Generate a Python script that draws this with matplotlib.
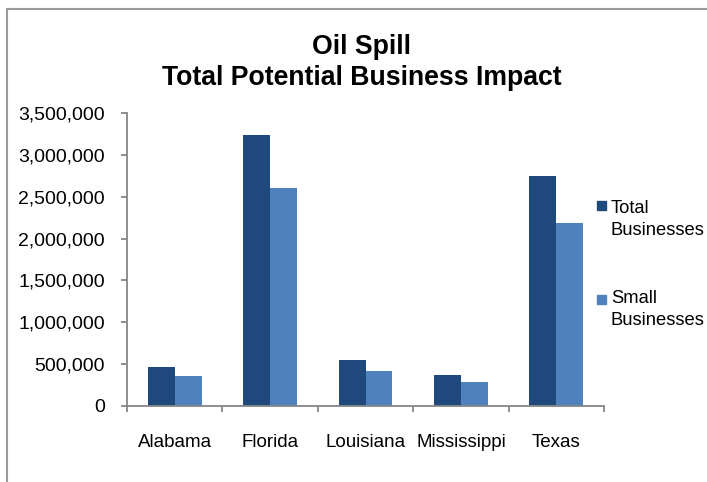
import numpy as np
import matplotlib
matplotlib.use("Agg")
import matplotlib.pyplot as plt
from matplotlib.lines import Line2D
from matplotlib.patches import Rectangle
from matplotlib.ticker import FuncFormatter

plt.rcParams["font.family"] = ["Liberation Sans", "DejaVu Sans"]

states = ["Alabama", "Florida", "Louisiana", "Mississippi", "Texas"]
total_businesses = [462000, 3233000, 546000, 371000, 2751000]
small_businesses = [363000, 2608000, 423000, 287000, 2189000]
series_names = ["Total\nBusinesses", "Small\nBusinesses"]
colors = ["#1F497D", "#4F81BD"]

W, H = 707, 482
fig = plt.figure(figsize=(W / 100, H / 100), dpi=100)
ax = fig.add_axes([127 / W, 1 - 406 / H, (604 - 127) / W, (406 - 113) / H])

x = np.arange(len(states))
bw = 0.283
ax.bar(x - bw / 2, total_businesses, bw, color=colors[0], edgecolor="none")
ax.bar(x + bw / 2, small_businesses, bw, color=colors[1], edgecolor="none")

ax.set_xlim(-0.5, len(states) - 0.5)
ax.set_ylim(0, 3500000)
ax.set_yticks(np.arange(0, 3500001, 500000))
ax.yaxis.set_major_formatter(FuncFormatter(lambda v, p: f"{int(v):,}"))

# category boundaries as major ticks, names on minor ticks at centres
ax.set_xticks(np.arange(-0.5, len(states), 1.0))
ax.set_xticklabels([])
ax.set_xticks(x, minor=True)
ax.set_xticklabels(states, minor=True)

axis_col = "#868686"
for s in ["top", "right"]:
    ax.spines[s].set_visible(False)
for s in ["left", "bottom"]:
    ax.spines[s].set_color(axis_col)
    ax.spines[s].set_linewidth(1.3)
ax.tick_params(axis="y", which="major", direction="out", length=4, width=1.3,
               color=axis_col, labelsize=14, pad=12)
ax.tick_params(axis="x", which="major", direction="out", length=4, width=1.3,
               color=axis_col)
ax.tick_params(axis="x", which="minor", length=0, labelsize=13.5, pad=20)

fig.text(362 / W, 1 - 47 / H, "Oil Spill", ha="center", va="center",
         fontsize=19.2, fontweight="bold")
fig.text(362 / W, 1 - 78 / H, "Total Potential Business Impact", ha="center",
         va="center", fontsize=19.2, fontweight="bold")

# legend drawn by hand so the marker sits beside the first line
for name, col, sq_top, txt_top in zip(series_names, colors, [201, 295], [200, 290]):
    fig.add_artist(Rectangle((597 / W, 1 - (sq_top + 9) / H), 9 / W, 9 / H,
                             transform=fig.transFigure, color=col))
    fig.text(611 / W, 1 - txt_top / H, name, ha="left", va="top",
             fontsize=13.2, linespacing=1.4)

# outer chart border (left and top edges visible)
border = "#9a9a9a"
fig.add_artist(Line2D([7 / W, 7 / W], [0, 1 - 9 / H], transform=fig.transFigure,
                      color=border, lw=1.5))
fig.add_artist(Line2D([7 / W, 1], [1 - 9 / H, 1 - 9 / H], transform=fig.transFigure,
                      color=border, lw=1.5))

fig.savefig("out.png", dpi=100)
